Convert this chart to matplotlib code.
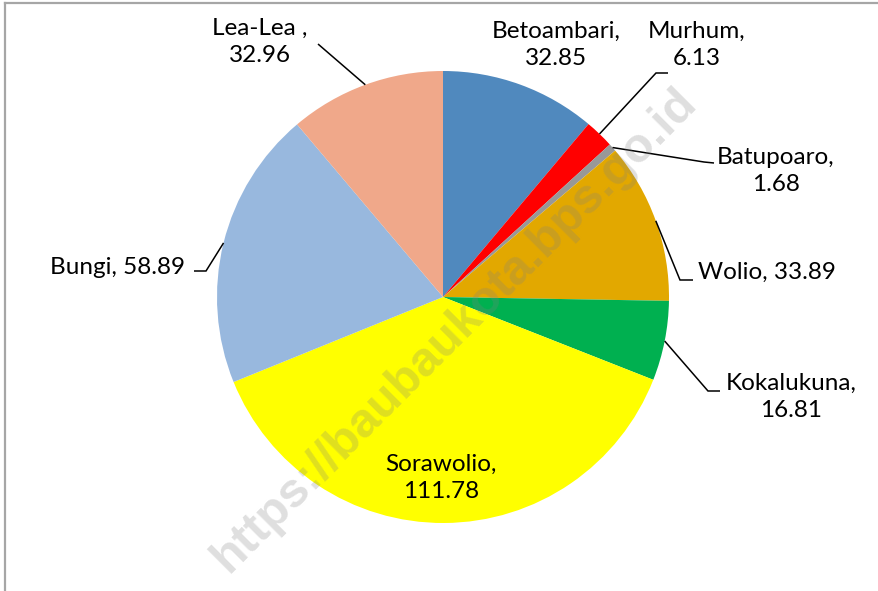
import numpy as np
import matplotlib
matplotlib.use("Agg")
import matplotlib.pyplot as plt
from matplotlib.lines import Line2D

categories = ["Betoambari", "Murhum", "Batupoaro", "Wolio", "Kokalukuna",
              "Sorawolio", "Bungi", "Lea-Lea "]
values = [32.85, 6.13, 1.68, 33.89, 16.81, 111.78, 58.89, 32.96]
colors = ["#5089BE", "#FF0000", "#989898", "#E2A800", "#00B050",
          "#FFFF00", "#98B8DE", "#F0A88A"]
value_labels = ["32.85", "6.13", "1.68", "33.89", "16.81", "111.78", "58.89", "32.96"]

W, H = 879, 591
fig = plt.figure(figsize=(W / 100, H / 100), dpi=100)
ax = fig.add_axes([0, 0, 1, 1])

cx, cy, R = 443, H - 297, 226
wedges, _ = ax.pie(values, colors=colors, startangle=90, counterclock=False,
                   center=(cx, cy), radius=R, frame=True,
                   wedgeprops=dict(linewidth=0))
ax.set_xlim(0, W)
ax.set_ylim(0, H)
ax.set_aspect("equal")
ax.axis("off")

font = "Lato"
fs = 17.5

# label layout: (text centre, two_line, elbow point, end point) in pixels from top-left
layout = {
    "Betoambari": ((556, 45), True, None, None),
    "Murhum": ((697, 45), True, (656, 73), (668, 73)),
    "Batupoaro": ((776, 171), True, (704, 162), (714, 163)),
    "Wolio": ((767, 272), False, (680, 280), (693, 280)),
    "Kokalukuna": ((791, 397), True, (708, 391), (720, 391)),
    "Sorawolio": ((441, 478), True, None, None),
    "Bungi": ((118, 268), False, (206, 271), (194, 271)),
    "Lea-Lea ": ((260, 42), True, (318, 44), None),
}

for w, cat, vl in zip(wedges, categories, value_labels):
    (tx, ty), two, elbow, end = layout[cat]
    txt = f"{cat},\n{vl}" if two else f"{cat}, {vl}"
    ax.text(tx, H - ty, txt, ha="center", va="center", fontsize=fs,
            family=font, color="black", linespacing=1.38, zorder=5)
    if elbow is not None:
        mid = np.deg2rad((w.theta1 + w.theta2) / 2)
        ax_x = cx + R * np.cos(mid)
        ax_y = cy + R * np.sin(mid)
        xs = [ax_x, elbow[0]]
        ys = [ax_y, H - elbow[1]]
        if end is not None:
            xs.append(end[0])
            ys.append(H - end[1])
        ax.plot(xs, ys, color="black", lw=1.1, zorder=4,
                solid_capstyle="butt", solid_joinstyle="miter")

# watermark
ax.text(455, H - 330, "https://baubaukota.bps.go.id", rotation=45,
        ha="center", va="center", fontsize=35, fontweight="bold",
        family="Liberation Sans", color="#808080", alpha=0.25, zorder=6,
        rotation_mode="anchor")

# border
fig.add_artist(Line2D([5 / W, 5 / W], [0, 1 - 3 / H], color="#A6A6A6", lw=1.6,
                      transform=fig.transFigure))
fig.add_artist(Line2D([5 / W, 1], [1 - 3 / H, 1 - 3 / H], color="#A6A6A6", lw=1.6,
                      transform=fig.transFigure))

fig.savefig("out.png", dpi=100, facecolor="white")
